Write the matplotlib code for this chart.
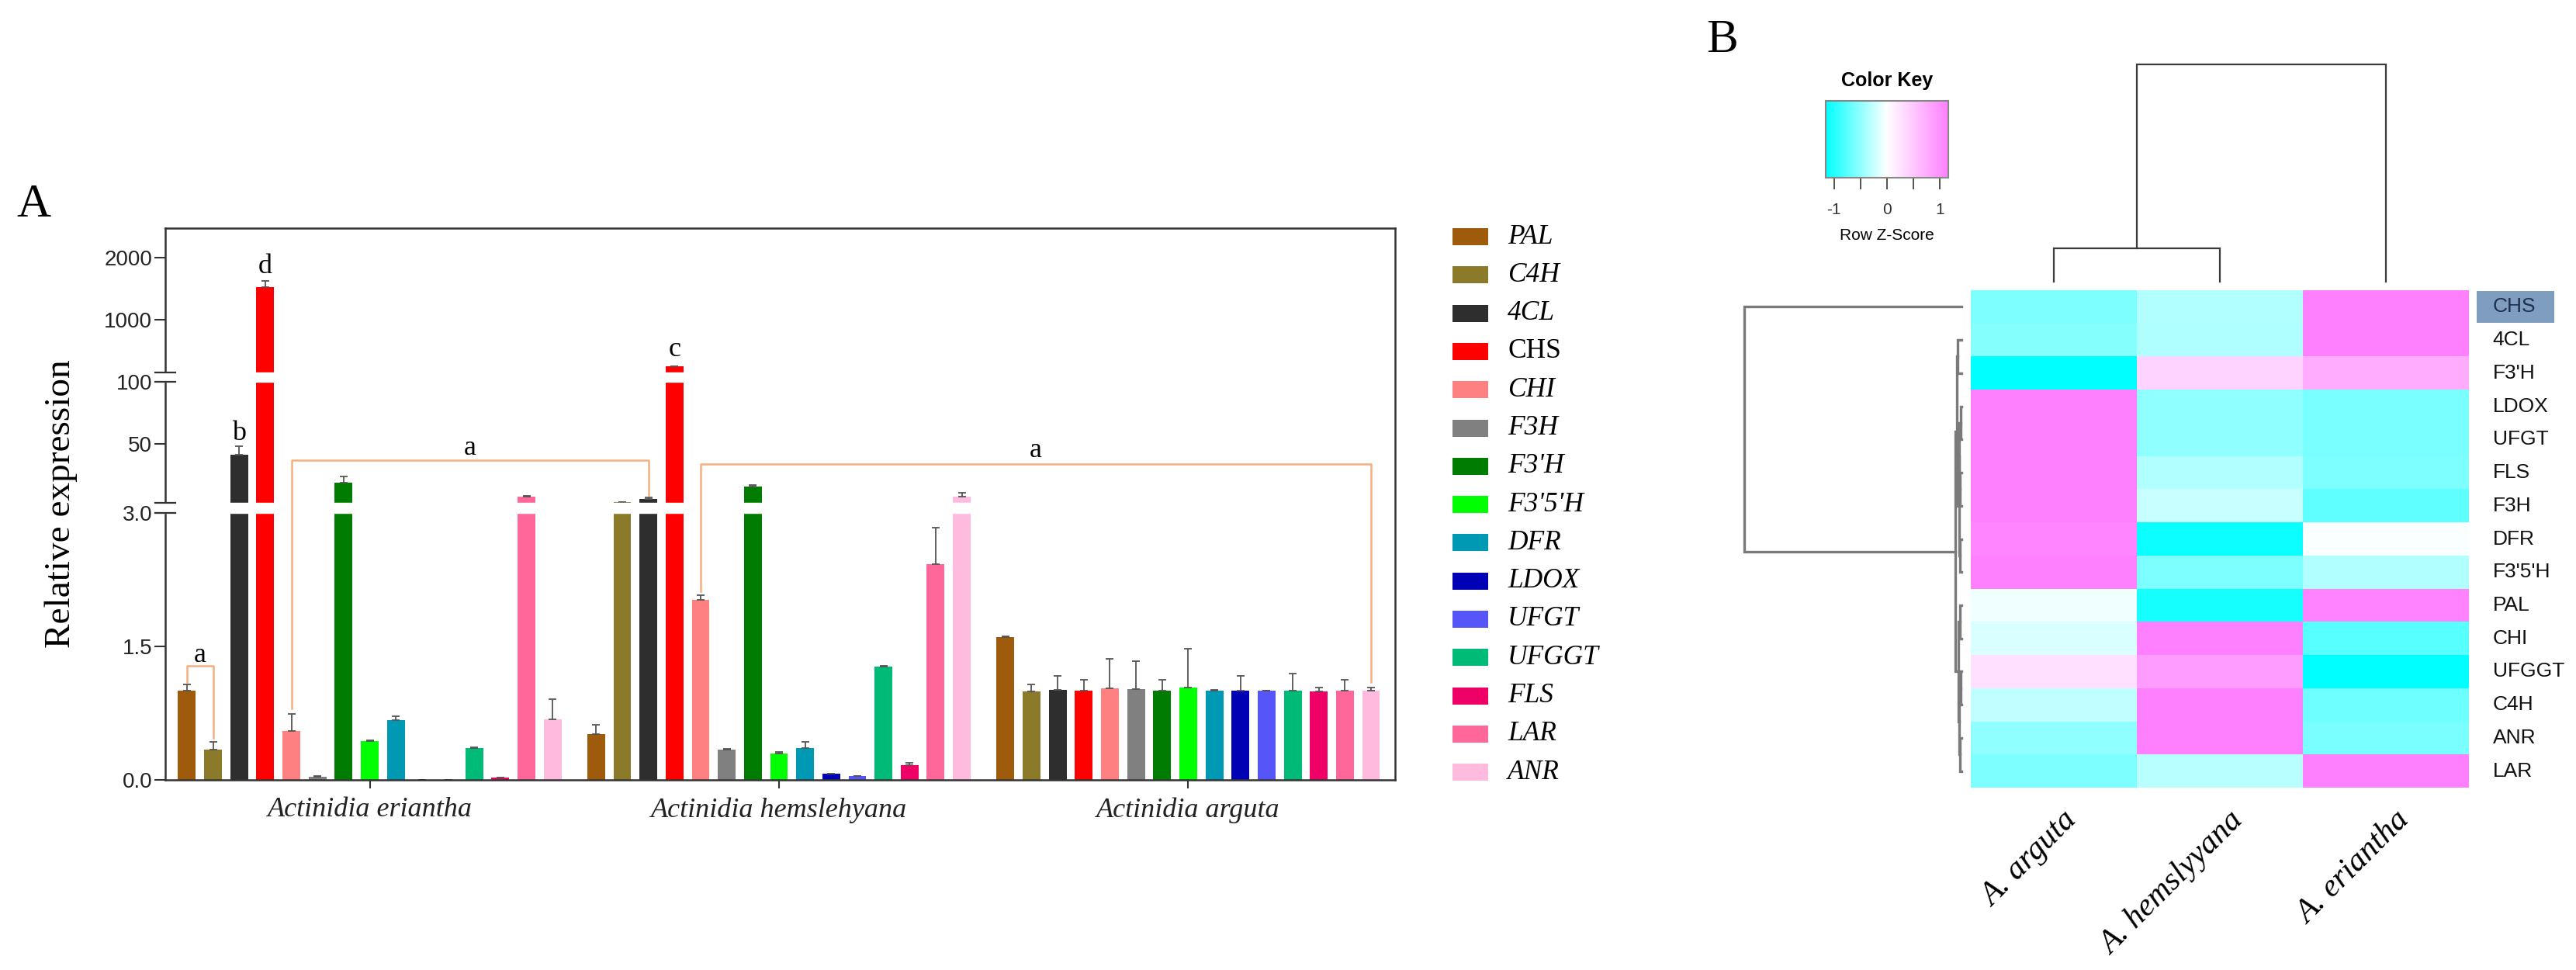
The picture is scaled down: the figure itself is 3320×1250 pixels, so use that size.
import numpy as np
import matplotlib
matplotlib.use('Agg')
import matplotlib.pyplot as plt
from matplotlib.colors import LinearSegmentedColormap
from matplotlib.patches import Rectangle
import matplotlib.transforms as mtransforms

# ---------------- DATA ----------------
genes = ['PAL', 'C4H', '4CL', 'CHS', 'CHI', 'F3H', "F3'H", "F3'5'H", 'DFR',
         'LDOX', 'UFGT', 'UFGGT', 'FLS', 'LAR', 'ANR']
gene_colors = ['#9E5B0C', '#8B7A2A', '#2E2E2E', '#FF0000', '#FF8080', '#808080',
               '#007D00', '#00FF00', '#0099B3', '#0000B5', '#5555F8', '#00BB77',
               '#EE0066', '#FF6699', '#FFBBDD']
species = ['Actinidia eriantha', 'Actinidia hemslehyana', 'Actinidia arguta']

eriantha = [1.0, 0.34, 41.6, 1530, 0.55, 0.035, 19.2, 0.435, 0.667,
            0.004, 0.003, 0.357, 0.023, 8.0, 0.68]
eriantha_err = [0.07, 0.09, 7.0, 90, 0.19, 0.005, 4.7, 0.01, 0.05,
                0.0, 0.0, 0.01, 0.005, 0.5, 0.23]
hemsl = [0.516, 3.6, 6.0, 195, 2.02, 0.34, 16.2, 0.30, 0.354,
         0.067, 0.043, 1.27, 0.165, 2.42, 8.1]
hemsl_err = [0.10, 0.1, 1.2, 5, 0.05, 0.01, 0.8, 0.01, 0.07,
             0.005, 0.003, 0.01, 0.025, 0.41, 3.0]
arguta = [1.6, 0.994, 1.006, 1.0, 1.03, 1.02, 1.0, 1.04, 1.0,
          1.0, 1.0, 1.0, 0.99, 1.0, 1.0]
arguta_err = [0.01, 0.08, 0.16, 0.12, 0.33, 0.31, 0.12, 0.43, 0.01,
              0.17, 0.005, 0.19, 0.05, 0.12, 0.04]

# brackets: (group_a, gene_a, group_b, gene_b, line_y, drop_a, drop_b, label, label_y)
brackets = [(0, 0, 0, 1, 1.28, 1.10, 0.47, 'a', 1.40),
            (0, 4, 1, 2, 37.0, 0.80, 9.0, 'a', 46.5),
            (1, 4, 2, 14, 34.0, 2.12, 1.10, 'a', 45.0)]
letters = [(0, 3, 1860, 'd'), (0, 2, 58.5, 'b'), (1, 3, 480, 'c')]

# y-axis break scale (value -> drawn position)
brk_vals = [0, 3.0, 3.0001, 100, 100.0001, 1000, 2000, 3000]
brk_pos = [0, 720, 746, 1073, 1098, 1240, 1406, 1572]
ytick_vals = [0, 1.5, 3.0, 50, 100, 1000, 2000]
ytick_labels = ['0.0', '1.5', '3.0', '50', '100', '1000', '2000']

# heatmap (row z-scores)
hm_rows = ['CHS', '4CL', "F3'H", 'LDOX', 'UFGT', 'FLS', 'F3H', 'DFR', "F3'5'H",
           'PAL', 'CHI', 'UFGGT', 'C4H', 'ANR', 'LAR']
hm_cols = ['A. arguta', 'A. hemslyyana', 'A. eriantha']
z_arguta = [-0.58, -0.55, -1.15, 1.15, 1.15, 1.15, 1.15, 1.10, 1.15,
            -0.07, -0.17, 0.28, -0.28, -0.50, -0.58]
z_hemsl = [-0.35, -0.36, 0.40, -0.50, -0.50, -0.35, -0.25, -1.10, -0.58,
           -1.05, 1.15, 0.90, 1.15, 1.15, -0.32]
z_erian = [1.15, 1.15, 0.75, -0.60, -0.60, -0.58, -0.72, -0.02, -0.35,
           1.12, -0.75, -1.15, -0.65, -0.60, 1.15]
# row dendrogram merges: (left, right, height); leaves 0..14 in row order
row_merges = [(3, 4, 0.004), (5, 6, 0.006), (15, 16, 0.009), (7, 8, 0.008),
              (17, 18, 0.012), (1, 2, 0.018), (20, 19, 0.022), (9, 10, 0.007),
              (11, 12, 0.005), (13, 14, 0.006), (23, 24, 0.010), (22, 25, 0.014),
              (21, 26, 0.028), (0, 27, 1.0)]
# column dendrogram merges: leaves 0..2
col_merges = [(0, 1, 0.154), (3, 2, 1.0)]

# ---------------- FIGURE ----------------
W, H = 3320, 1250
fig = plt.figure(figsize=(W / 100, H / 100), dpi=100)
SERIF = ['Liberation Serif', 'DejaVu Serif']
SANS = ['Liberation Sans', 'DejaVu Sans']


def fbox(x0, y0, x1, y1):
    return [x0 / W, 1 - y1 / H, (x1 - x0) / W, (y1 - y0) / H]


# ---------------- PANEL A ----------------
ax = fig.add_axes(fbox(213, 294, 1798, 1005))
fwd = lambda v: np.interp(v, brk_vals, brk_pos)
inv = lambda u: np.interp(u, brk_pos, brk_vals)
ax.set_yscale('function', functions=(fwd, inv))

group_step = 15.67
width = 0.68
groups = [(eriantha, eriantha_err), (hemsl, hemsl_err), (arguta, arguta_err)]
n = len(genes)


def xpos(g, i):
    return g * group_step + i - (n - 1) / 2


for g, (vals, errs) in enumerate(groups):
    xs = np.array([xpos(g, i) for i in range(n)])
    ax.bar(xs, vals, width=width, color=gene_colors, zorder=2)
    ax.errorbar(xs, vals, yerr=[np.zeros(n), errs], fmt='none', ecolor='#555555',
                elinewidth=1.3, capsize=3.5, capthick=1.3, zorder=2.1)

# white break bands
for lo, hi in [(brk_vals[1], brk_vals[2]), (brk_vals[3], brk_vals[4])]:
    ax.axhspan(lo, hi, xmin=-0.004, xmax=0.998, color='white', zorder=2.6, clip_on=False)
    for yy in (lo, hi):
        ax.plot([-0.008, 0.008], [yy, yy], transform=ax.get_yaxis_transform(),
                color='#333333', lw=1.6, clip_on=False, zorder=3)

# brackets
bc = '#F7AE7E'
for ga, ia, gb, ib, yl, da, db, lab, ly in brackets:
    xa, xb = xpos(ga, ia), xpos(gb, ib)
    ax.plot([xa, xa, xb, xb], [da, yl, yl, db], color=bc, lw=1.8, zorder=3)
    ax.text((xa + xb) / 2, ly, lab, ha='center', va='center', fontsize=26,
            family=SERIF, zorder=4)
for g, i, yy, lab in letters:
    ax.text(xpos(g, i), yy, lab, ha='center', va='center', fontsize=26,
            family=SERIF, zorder=4)

ax.set_xlim(-7.83, 2 * group_step + 7.92)
ax.set_ylim(0, 2482)
ax.set_yticks(ytick_vals)
ax.set_yticklabels(ytick_labels, family=SANS, fontsize=20)
ax.minorticks_off()
ax.set_xticks([g * group_step for g in range(3)])
ax.set_xticklabels(species, family=SERIF, fontsize=26, style='italic')
ax.tick_params(axis='y', length=10, width=1.5, colors='#333333', pad=2)
ax.tick_params(axis='x', length=8, width=1.5, colors='#333333', pad=8)
for lab in ax.get_xticklabels() + ax.get_yticklabels():
    lab.set_color('#222222')
for s in ax.spines.values():
    s.set_linewidth(1.8)
    s.set_color('#333333')
ax.set_ylabel('Relative expression', family=SERIF, fontsize=34, labelpad=10)
ax.yaxis.set_label_coords(-0.071, 0.5)

fig.text(43 / W, 1 - 264 / H, 'A', family=SERIF, fontsize=44, ha='center', va='center')

# legend (manual layout)
for i, (gname, col) in enumerate(zip(genes, gene_colors)):
    yc = 305 + i * 49.3
    fig.patches.append(Rectangle((1872 / W, 1 - (yc + 11) / H), 46 / W, 22 / H,
                                 transform=fig.transFigure, facecolor=col,
                                 edgecolor='none'))
    fig.text(1943 / W, 1 - yc / H, gname, family=SERIF, fontsize=25.5,
             style='normal' if gname == 'CHS' else 'italic', va='center', ha='left')

# ---------------- PANEL B ----------------
Z = np.column_stack([z_arguta, z_hemsl, z_erian])
cmap = LinearSegmentedColormap.from_list('ck', ['#00FFFF', '#FFFFFF', '#FF80FF'])
zr = 1.155
axh = fig.add_axes(fbox(2540, 374, 3182, 1015))
axh.pcolormesh(np.arange(4), np.arange(16), Z, cmap=cmap, vmin=-zr, vmax=zr)
axh.set_xlim(0, 3)
axh.set_ylim(15, 0)
axh.set_xticks([])
axh.set_yticks([])
for s in axh.spines.values():
    s.set_visible(False)
tr = mtransforms.blended_transform_factory(axh.transAxes, axh.transData)
axh.add_patch(Rectangle((1.016, 0.02), 0.155, 0.96, transform=tr, facecolor='#7F9DBF',
                        edgecolor='none', clip_on=False))
for r, name in enumerate(hm_rows):
    axh.text(1.048, r + 0.5, name, transform=tr, ha='left', va='center', fontsize=19,
             family=SANS, color='#1F3050' if name == 'CHS' else '#111111')
for c, name in enumerate(hm_cols):
    axh.text(c + 0.55, 15.55, name, ha='right', va='top', rotation=45,
             rotation_mode='anchor', fontsize=30, family=SERIF, style='italic')

# column dendrogram
axc = fig.add_axes(fbox(2540, 83, 3182, 363))
axc.set_xlim(0, 3)
axc.set_ylim(0, 1)
axc.axis('off')
cpos = {i: i + 0.5 for i in range(3)}
chgt = {i: 0.0 for i in range(3)}
for k, (a, b, h) in enumerate(col_merges):
    node = 3 + k
    axc.plot([cpos[a], cpos[a], cpos[b], cpos[b]], [chgt[a], h, h, chgt[b]],
             color='#3A3A3A', lw=1.6, solid_joinstyle='miter', clip_on=False)
    cpos[node] = (cpos[a] + cpos[b]) / 2
    chgt[node] = h

# row dendrogram
axr = fig.add_axes(fbox(2248, 374, 2528, 1015))
axr.set_xlim(1, 0)
axr.set_ylim(15, 0)
axr.axis('off')
rpos = {i: i + 0.5 for i in range(15)}
rhgt = {i: 0.0 for i in range(15)}
for k, (a, b, h) in enumerate(row_merges):
    node = 15 + k
    axr.plot([rhgt[a], h, h, rhgt[b]], [rpos[a], rpos[a], rpos[b], rpos[b]],
             color='#7A7A7A', lw=2.4, solid_joinstyle='miter', clip_on=False)
    rpos[node] = (rpos[a] + rpos[b]) / 2
    rhgt[node] = h

# colour key
axk = fig.add_axes(fbox(2353, 130, 2511, 229))
grad = np.linspace(-zr, zr, 256)[None, :]
axk.imshow(grad, aspect='auto', cmap=cmap, vmin=-zr, vmax=zr,
           extent=[-zr, zr, 0, 1])
axk.set_xlim(-zr, zr)
axk.set_yticks([])
axk.set_xticks([-1, -0.5, 0, 0.5, 1])
axk.set_xticklabels(['-1', '', '0', '', '1'], family=SANS, fontsize=15)
axk.tick_params(axis='x', length=11, width=1.2, colors='#333333', pad=12)
for s in axk.spines.values():
    s.set_color('#888888')
    s.set_linewidth(1.5)
axk.set_title('Color Key', family=SANS, fontsize=18, fontweight='bold', pad=14)
axk.set_xlabel('Row Z-Score', family=SANS, fontsize=15, labelpad=10)

fig.text(2220 / W, 1 - 52 / H, 'B', family=SERIF, fontsize=44, ha='center', va='center')

fig.savefig('out.png', dpi=100, facecolor='white')
